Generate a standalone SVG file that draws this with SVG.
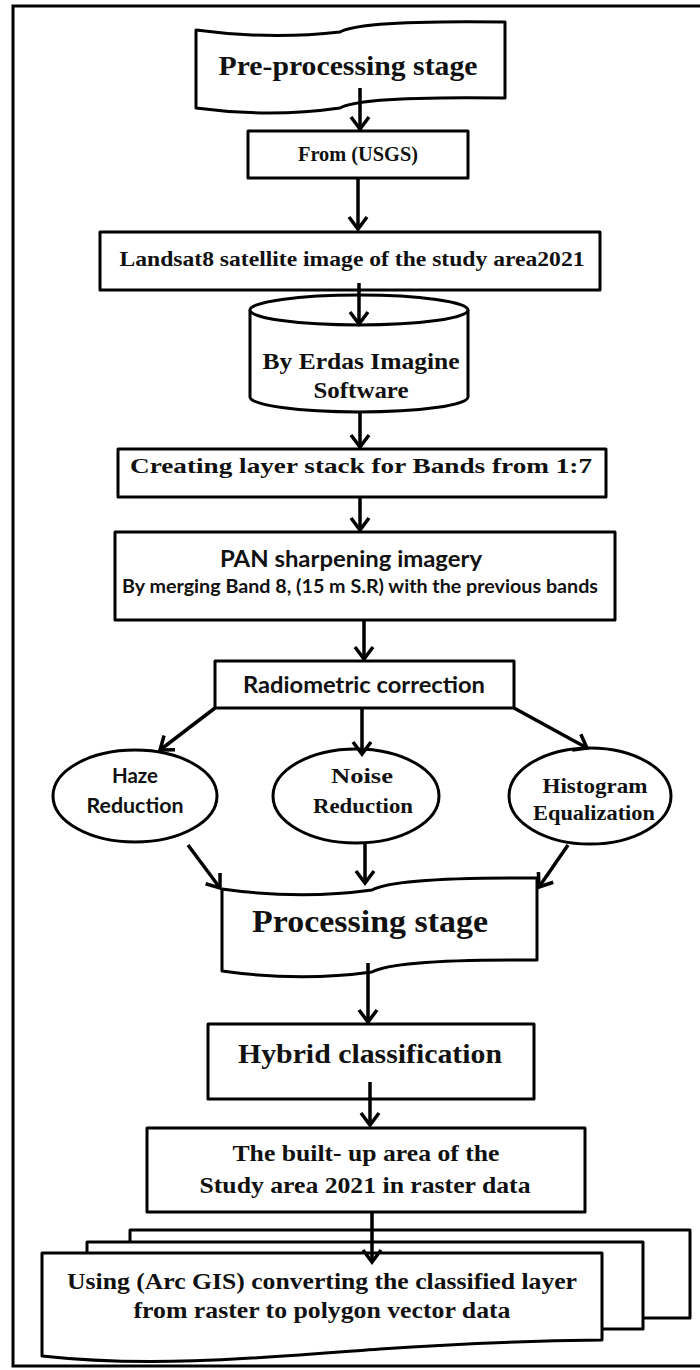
<svg xmlns="http://www.w3.org/2000/svg" width="700" height="1370" viewBox="0 0 700 1370">
<style>
.shape{fill:#fff;stroke:#000;stroke-width:3;stroke-linejoin:round}
.conn{stroke:#000;stroke-width:3.5;fill:none}
.serif{font-family:"Liberation Serif","Times New Roman",serif;font-weight:bold;fill:#111;text-anchor:middle}
.sans{font-family:Lato,"Liberation Sans",Arial,sans-serif;font-weight:bold;fill:#111;text-anchor:middle}
</style>
<defs>
<marker id="ah" markerUnits="userSpaceOnUse" viewBox="-16 -12 20 24" refX="0" refY="0" markerWidth="20" markerHeight="24" orient="auto">
<path d="M-12,-9 L0,0 L-12,9" fill="none" stroke="#000" stroke-width="3.5" stroke-linejoin="miter"/>
</marker>
</defs>
<rect width="700" height="1370" fill="#fff"/>
<path d="M700,6 L13,6 L13,1366 L700,1366" fill="none" stroke="#000" stroke-width="3"/>

<g id="pre-processing">
<path class="shape" d="M196,30 Q270,40 340,32 Q360,20 505,22 L505,98 Q360,96 340,108 Q270,118 196,108 Z"/>
<text class="serif" x="348" y="75" font-size="28" textLength="259" lengthAdjust="spacingAndGlyphs">Pre-processing stage</text>
</g>
<g id="usgs">
<rect class="shape" x="248" y="131" width="220" height="47"/>
<text class="serif" x="358" y="161" font-size="20" textLength="120" lengthAdjust="spacingAndGlyphs">From (USGS)</text>
</g>
<g id="landsat">
<rect class="shape" x="100" y="232" width="500" height="58"/>
<text class="serif" x="352" y="266" font-size="22" textLength="465" lengthAdjust="spacingAndGlyphs">Landsat8 satellite image of the study area2021</text>
</g>
<g id="erdas">
<path class="shape" d="M250,310 L250,397 A109,15 0 0 0 468,397 L468,310"/>
<ellipse class="shape" cx="359" cy="310" rx="109" ry="15"/>
<text class="serif" x="361" y="369" font-size="23" textLength="197" lengthAdjust="spacingAndGlyphs">By Erdas Imagine</text>
<text class="serif" x="361" y="398" font-size="23" textLength="95" lengthAdjust="spacingAndGlyphs">Software</text>
</g>
<g id="layerstack">
<rect class="shape" x="118" y="449" width="488" height="48"/>
<text class="serif" x="361" y="473" font-size="22" textLength="462" lengthAdjust="spacingAndGlyphs">Creating layer stack for Bands from 1:7</text>
</g>
<g id="pan">
<rect class="shape" x="115" y="532" width="500" height="88"/>
<text class="sans" x="351" y="567" font-size="23" textLength="262" lengthAdjust="spacingAndGlyphs">PAN sharpening imagery</text>
<text class="sans" x="360" y="593" font-size="19" textLength="476" lengthAdjust="spacingAndGlyphs">By merging Band 8, (15 m S.R) with the previous bands</text>
</g>
<g id="radiometric">
<rect class="shape" x="215" y="661" width="299" height="47"/>
<text class="sans" x="364" y="693" font-size="23" textLength="242" lengthAdjust="spacingAndGlyphs">Radiometric correction</text>
</g>
<g id="haze">
<ellipse class="shape" cx="135" cy="796" rx="82" ry="46"/>
<text class="sans" x="135" y="783" font-size="20" textLength="46" lengthAdjust="spacingAndGlyphs">Haze</text>
<text class="sans" x="135" y="813" font-size="20" textLength="97" lengthAdjust="spacingAndGlyphs">Reduction</text>
</g>
<g id="noise">
<ellipse class="shape" cx="356" cy="796" rx="83" ry="47"/>
<text class="serif" x="362" y="783" font-size="21" textLength="62" lengthAdjust="spacingAndGlyphs">Noise</text>
<text class="serif" x="363" y="813" font-size="21" textLength="100" lengthAdjust="spacingAndGlyphs">Reduction</text>
</g>
<g id="histogram">
<ellipse class="shape" cx="590" cy="796" rx="81" ry="48"/>
<text class="serif" x="595" y="793" font-size="21" textLength="105" lengthAdjust="spacingAndGlyphs">Histogram</text>
<text class="serif" x="594" y="820" font-size="21" textLength="122" lengthAdjust="spacingAndGlyphs">Equalization</text>
</g>
<g id="processing">
<path class="shape" d="M222,889 Q300,900 372,890 Q395,877 537,878 L537,960 Q395,959 372,972 Q300,982 222,971 Z"/>
<text class="serif" x="370" y="932" font-size="31" textLength="236" lengthAdjust="spacingAndGlyphs">Processing stage</text>
</g>
<g id="hybrid">
<rect class="shape" x="208" y="1024" width="326" height="75"/>
<text class="serif" x="370" y="1063" font-size="27" textLength="264" lengthAdjust="spacingAndGlyphs">Hybrid classification</text>
</g>
<g id="builtup">
<rect class="shape" x="147" y="1128" width="438" height="84"/>
<text class="serif" x="366" y="1161" font-size="23" textLength="267" lengthAdjust="spacingAndGlyphs">The built- up area of the</text>
<text class="serif" x="365" y="1193" font-size="23" textLength="331" lengthAdjust="spacingAndGlyphs">Study area 2021 in raster data</text>
</g>
<g id="arcgis">
<rect class="shape" x="130" y="1230" width="560" height="88"/>
<rect class="shape" x="87" y="1242" width="556" height="87"/>
<path class="shape" d="M42,1253 L602,1253 L602,1340 C520,1341 450,1344 380,1349 C260,1358 150,1368 42,1356 Z"/>
<text class="serif" x="322" y="1289" font-size="23" textLength="510" lengthAdjust="spacingAndGlyphs">Using (Arc GIS) converting the classified layer</text>
<text class="serif" x="322" y="1318" font-size="23" textLength="377" lengthAdjust="spacingAndGlyphs">from raster to polygon vector data</text>
</g>

<g id="connectors">
<line class="conn" x1="360" y1="88" x2="360" y2="129" marker-end="url(#ah)"/>
<line class="conn" x1="358" y1="178" x2="358" y2="229" marker-end="url(#ah)"/>
<line class="conn" x1="359" y1="283" x2="359" y2="324" marker-end="url(#ah)"/>
<line class="conn" x1="360" y1="413" x2="360" y2="447" marker-end="url(#ah)"/>
<line class="conn" x1="360" y1="497" x2="360" y2="530" marker-end="url(#ah)"/>
<line class="conn" x1="364" y1="620" x2="364" y2="659" marker-end="url(#ah)"/>
<line class="conn" x1="215" y1="708" x2="160" y2="750" marker-end="url(#ah)"/>
<line class="conn" x1="362" y1="708" x2="362" y2="754" marker-end="url(#ah)"/>
<line class="conn" x1="514" y1="708" x2="587" y2="748" marker-end="url(#ah)"/>
<line class="conn" x1="188" y1="845" x2="220" y2="888" marker-end="url(#ah)"/>
<line class="conn" x1="365" y1="843" x2="365" y2="883" marker-end="url(#ah)"/>
<line class="conn" x1="568" y1="845" x2="539" y2="887" marker-end="url(#ah)"/>
<line class="conn" x1="368" y1="963" x2="368" y2="1022" marker-end="url(#ah)"/>
<line class="conn" x1="370" y1="1082" x2="370" y2="1125" marker-end="url(#ah)"/>
<line class="conn" x1="372" y1="1212" x2="372" y2="1262" marker-end="url(#ah)"/>
</g>
</svg>
